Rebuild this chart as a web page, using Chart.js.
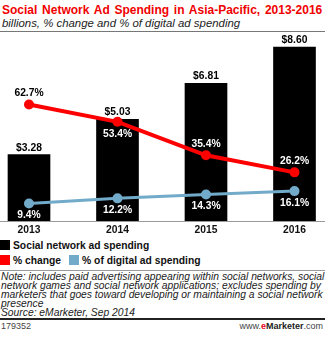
<!DOCTYPE html>
<html>
<head>
<meta charset="utf-8">
<script src="https://cdn.jsdelivr.net/npm/chart.js@4"></script>
<style>
  body { margin: 0; background: #fff; font-family: "Liberation Sans", Arial, sans-serif; }
  #wrap { position: relative; width: 325px; height: 337px; overflow: hidden; }
  .abs { position: absolute; }
  #title { left: 2px; top: 3px; font-weight: bold; font-size: 12px; word-spacing: 1.4px; color: #f00000; white-space: nowrap; }
  #sub { left: 2px; top: 17px; font-style: italic; font-size: 11.4px; color: #222; white-space: nowrap; }
  #rule1 { left: 0; top: 31px; width: 325px; height: 1px; background: #777; }
  #box { left: 0; top: 33px; width: 325px; height: 204px; }
  .leg { font-weight: bold; font-size: 10.3px; color: #111; white-space: nowrap; line-height: 12px; }
  .sw { display: inline-block; width: 10px; height: 10px; vertical-align: -1px; margin-right: 3px; }
  #rule2 { left: 0; top: 270px; width: 325px; height: 1px; background: #999; }
  #note { left: 1px; top: 272px; width: 324px; font-style: italic; font-size: 10.3px; line-height: 9px; color: #222; }
  #rule3 { left: 0; top: 318px; width: 325px; height: 2px; background: #222; }
  #id { left: 1px; top: 321px; font-size: 9px; color: #444; }
  #brand { right: 2px; top: 321px; font-size: 9px; color: #444; }
</style>
</head>
<body>
<div id="wrap">
  <div id="title" class="abs">Social Network Ad Spending in Asia-Pacific, 2013-2016</div>
  <div id="sub" class="abs">billions, % change and % of digital ad spending</div>
  <div id="rule1" class="abs"></div>
  <div id="box" class="abs"><canvas id="chart"></canvas></div>
  <div id="leg1" class="abs leg" style="left:0;top:240px"></div>
  <div id="leg2" class="abs leg" style="left:0;top:255px"></div>
  <div id="rule2" class="abs"></div>
  <div id="note" class="abs">Note: includes paid advertising appearing within social networks, social network games and social network applications; excludes spending by marketers that goes toward developing or maintaining a social network presence<br>Source: eMarketer, Sep 2014</div>
  <div id="rule3" class="abs"></div>
  <div id="id" class="abs">179352</div>
  <div id="brand" class="abs">www.<b style="color:#e2001a">e</b><b style="color:#222">Marketer</b>.com</div>
</div>
<script>
const years = ['2013', '2014', '2015', '2016'];
const spending = [3.28, 5.03, 6.81, 8.60];
const pctChange = [62.7, 53.4, 35.4, 26.2];
const pctDigital = [9.4, 12.2, 14.3, 16.1];
const seriesNames = ['Social network ad spending', '% change', '% of digital ad spending'];
const colors = ['#000000', '#ff0000', '#72aac9'];

document.getElementById('leg1').innerHTML =
  `<span class="sw" style="background:${colors[0]}"></span>${seriesNames[0]}`;
document.getElementById('leg2').innerHTML =
  `<span class="sw" style="background:${colors[1]}"></span>${seriesNames[1]}` +
  `<span class="sw" style="background:${colors[2]};margin-left:8px"></span>${seriesNames[2]}`;

const labelPlugin = {
  id: 'labels',
  afterDatasetsDraw(chart) {
    const ctx = chart.ctx;
    const bars = chart.getDatasetMeta(0).data;
    ctx.save();
    ctx.font = 'bold 10.3px "Liberation Sans", Arial, sans-serif';
    ctx.textAlign = 'center';
    ctx.textBaseline = 'middle';
    // bar values
    bars.forEach((b, i) => {
      ctx.fillStyle = '#000';
      ctx.fillText('$' + spending[i].toFixed(2), b.x, b.y - 7);
    });
    // % change: above the point, below when it sits just under the bar top
    chart.getDatasetMeta(1).data.forEach((p, i) => {
      const top = bars[i].y;
      const below = p.y - top > -6 && p.y - top < 22;
      const y = below ? p.y + 12 : p.y - 11;
      ctx.fillStyle = y > top ? '#fff' : '#000';
      ctx.fillText(pctChange[i].toFixed(1) + '%', p.x, y);
    });
    // % of digital: below the point
    chart.getDatasetMeta(2).data.forEach((p, i) => {
      const y = p.y + 12;
      ctx.fillStyle = y > bars[i].y ? '#fff' : '#000';
      ctx.fillText(pctDigital[i].toFixed(1) + '%', p.x, y);
    });
    // baseline across full width
    const y0 = Math.round(chart.scales.y.getPixelForValue(0)) + 0.5;
    ctx.strokeStyle = '#999';
    ctx.lineWidth = 1;
    ctx.beginPath();
    ctx.moveTo(0, y0);
    ctx.lineTo(chart.width, y0);
    ctx.stroke();
    ctx.restore();
  }
};

new Chart(document.getElementById('chart').getContext('2d'), {
  type: 'bar',
  data: {
    labels: years,
    datasets: [{
      label: seriesNames[0],
      data: spending,
      backgroundColor: colors[0],
      barThickness: 42,
      yAxisID: 'y',
      order: 3,
      clip: false
    }, {
      type: 'line',
      label: seriesNames[1],
      data: pctChange,
      borderColor: colors[1],
      backgroundColor: colors[1],
      borderWidth: 4,
      pointRadius: 5,
      pointBorderWidth: 0,
      yAxisID: 'y2',
      order: 1,
      clip: false
    }, {
      type: 'line',
      label: seriesNames[2],
      data: pctDigital,
      borderColor: colors[2],
      backgroundColor: colors[2],
      borderWidth: 3,
      pointRadius: 5,
      pointBorderWidth: 0,
      yAxisID: 'y2',
      order: 2,
      clip: false
    }]
  },
  options: {
    responsive: true,
    maintainAspectRatio: false,
    animation: false,
    layout: { padding: { left: 29, right: 30.5, top: 6, bottom: 0 } },
    plugins: { legend: { display: false }, tooltip: { enabled: false } },
    scales: {
      x: {
        offset: false,
        grid: { display: false, drawTicks: false },
        border: { display: false },
        ticks: { color: '#111', padding: 3, font: { family: '"Liberation Sans", Arial, sans-serif', size: 10.3, weight: 'bold' } },
        afterFit: (s) => { s.height = 16; }
      },
      y: { display: false, min: 0, max: 9 },
      y2: { display: false, min: 0, max: 98 }
    }
  },
  plugins: [labelPlugin]
});
</script>
</body>
</html>
